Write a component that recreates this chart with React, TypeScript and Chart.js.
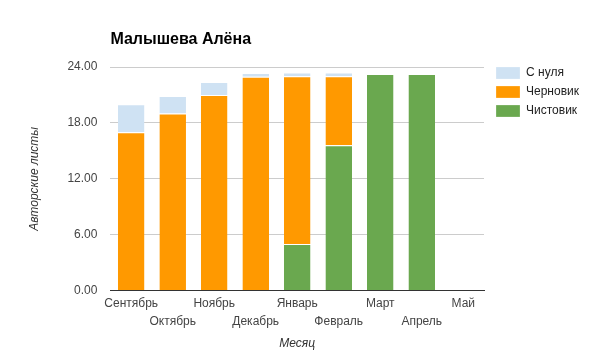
import React, { useEffect, useRef } from "react";
import { Chart, registerables } from "chart.js";

Chart.register(...registerables);

const TITLE = "Малышева Алёна";
const months = ["Сентябрь", "Октябрь", "Ноябрь", "Декабрь", "Январь", "Февраль", "Март", "Апрель", "Май"];
const fromScratch = [3, 1.9, 1.4, 0.4, 0.4, 0.4, 0, 0, 0];
const draft = [17, 19, 21, 22.95, 18, 7.4, 0, 0, 0];
const clean = [0, 0, 0, 0, 5, 15.6, 23.25, 23.25, 0];
const yTicks = [0, 6, 12, 18, 24];

const FONT = "Arial, 'Liberation Sans', sans-serif";

const titlePlugin = {
  id: "leftTitle",
  afterDraw(chart: any) {
    const ctx = chart.ctx;
    ctx.save();
    ctx.font = `bold 16px ${FONT}`;
    ctx.fillStyle = "#000";
    ctx.textBaseline = "middle";
    ctx.textAlign = "left";
    ctx.fillText(TITLE, chart.chartArea.left, 40);
    ctx.restore();
  },
};

const legendShift = {
  id: "legendShift",
  afterLayout(chart: any) {
    const lg = chart.legend;
    if (!lg) return;
    const w = lg.right - lg.left;
    const h = lg.bottom - lg.top;
    lg.left = chart.chartArea.right + 5;
    lg.right = lg.left + w;
    lg.top = chart.chartArea.top - 7;
    lg.bottom = lg.top + h;
  },
};

export default function App() {
  const ref = useRef<HTMLCanvasElement | null>(null);
  useEffect(() => {
    if (!ref.current) return;
    const labels = months.map((m, i) => (i % 2 === 1 ? ["", m] : m));
    const seg = { borderColor: "#ffffff", borderWidth: { top: 1, left: 0, right: 0, bottom: 0 }, borderSkipped: false };
    const chart = new Chart(ref.current, {
      type: "bar",
      data: {
        labels,
        datasets: [
          { label: "Чистовик", data: clean, backgroundColor: "#6aa84f", ...seg } as any,
          { label: "Черновик", data: draft, backgroundColor: "#ff9900", ...seg } as any,
          { label: "С нуля", data: fromScratch, backgroundColor: "#cfe2f3", ...seg } as any,
        ],
      },
      plugins: [titlePlugin, legendShift],
      options: {
        animation: false,
        responsive: false,
        maintainAspectRatio: false,
        layout: { padding: { top: 67, left: 27, right: 10, bottom: 5 } },
        datasets: { bar: { barPercentage: 0.64, categoryPercentage: 1 } },
        scales: {
          x: {
            stacked: true,
            grid: { display: false, drawTicks: false },
            border: { display: true, color: "#333333", width: 1 },
            ticks: { color: "#444", font: { family: FONT, size: 12, lineHeight: 1.5 }, padding: 4, maxRotation: 0, autoSkip: false },
            title: { display: true, text: "Месяц", color: "#333", font: { family: FONT, size: 12, style: "italic" }, padding: { top: 2, bottom: 0 } },
          },
          y: {
            stacked: true,
            min: 0,
            max: 24,
            afterBuildTicks: (axis: any) => {
              axis.ticks = yTicks.map((v) => ({ value: v }));
            },
            grid: { color: "#cccccc", drawTicks: false },
            border: { display: false },
            ticks: { color: "#444", font: { family: FONT, size: 12 }, padding: 13, callback: (v: any) => Number(v).toFixed(2) },
            title: { display: true, text: "Авторские листы", color: "#333", font: { family: FONT, size: 12, style: "italic" }, padding: { top: 0, bottom: 13 } },
          },
        },
        plugins: {
          legend: {
            position: "right",
            align: "start",
            reverse: true,
            labels: {
              boxWidth: 24,
              boxHeight: 12,
              color: "#222",
              font: { family: FONT, size: 12 },
              padding: 7,
            },
          },
          tooltip: { enabled: false },
          title: { display: false },
        },
      },
    } as any);
    return () => chart.destroy();
  }, []);
  return (
    <div style={{ position: "absolute", left: 0, top: 0, width: 594, height: 356, background: "#fff" }}>
      <canvas ref={ref} width={594} height={356} style={{ width: 594, height: 356 }} />
    </div>
  );
}
